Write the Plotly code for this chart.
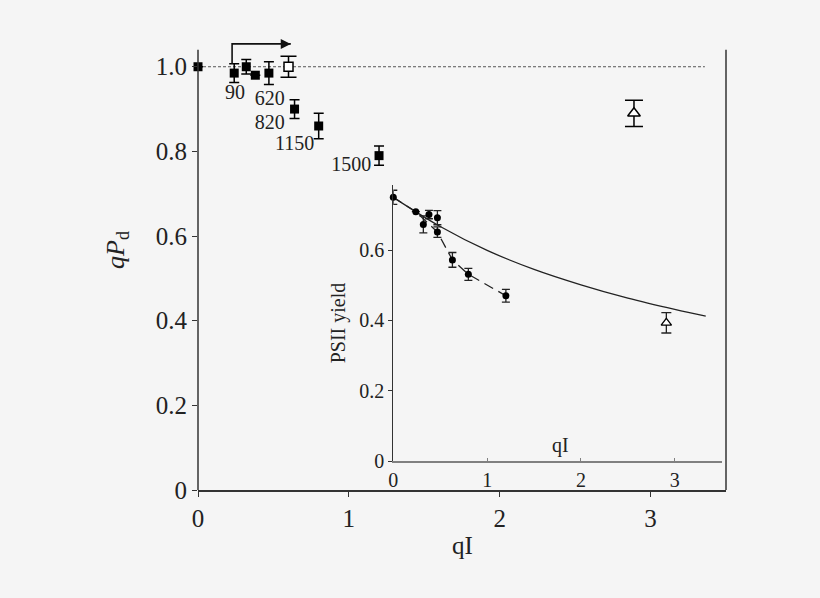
import plotly.graph_objects as go

# ---------------- data ----------------
# main panel: qPd vs qI
main_x = [0.0, 0.24, 0.32, 0.38, 0.47, 0.64, 0.80, 1.20]
main_y = [1.00, 0.985, 1.00, 0.98, 0.985, 0.90, 0.86, 0.79]
main_err = [0.0, 0.022, 0.017, 0.0, 0.027, 0.022, 0.03, 0.023]
open_sq_x = [0.60]
open_sq_y = [1.00]
open_sq_err = [0.025]
main_tri_x = [2.89]
main_tri_y = [0.89]
main_tri_err = [0.031]
label_text = ["90", "620", "820", "1150", "1500"]
label_x = [0.246, 0.475, 0.475, 0.64, 1.016]
label_y = [0.936, 0.922, 0.864, 0.816, 0.766]
ref_line_x = [0.0, 3.36]
ref_line_y = [1.0, 1.0]
arrow_path_x = [0.226, 0.226, 0.615]
arrow_path_y = [1.007, 1.054, 1.054]
arrow_head_x = [0.615]
arrow_head_y = [1.054]

# inset: PSII yield vs qI
in_x = [0.0, 0.24, 0.32, 0.38, 0.47, 0.47, 0.63, 0.80, 1.20]
in_y = [0.75, 0.709, 0.673, 0.701, 0.692, 0.651, 0.572, 0.531, 0.470]
in_err = [0.02, 0.0, 0.024, 0.012, 0.02, 0.015, 0.021, 0.017, 0.018]
in_tri_x = [2.91]
in_tri_y = [0.393]
in_tri_err = [0.029]
dash_x = [0.0, 0.24, 0.47, 0.63, 0.80, 1.20]
dash_y = [0.75, 0.709, 0.651, 0.572, 0.531, 0.470]
curve_x = [0.0, 0.5, 1.0, 1.5, 2.0, 2.5, 3.0, 3.33]
curve_y = [0.75, 0.667, 0.599, 0.545, 0.501, 0.463, 0.431, 0.412]

main_xticks = [0, 1, 2, 3]
main_yticks = [0, 0.2, 0.4, 0.6, 0.8, 1.0]
main_ytick_text = ["0", "0.2", "0.4", "0.6", "0.8", "1.0"]
main_axis_top = 1.04
in_xticks = [0, 1, 2, 3]
in_yticks = [0, 0.2, 0.4, 0.6]
in_ytick_text = ["0", "0.2", "0.4", "0.6"]

FONT = "Liberation Serif"
BG = "#f5f5f5"
DARK = "#222222"

# layout geometry (pixels)
W, H = 820, 598
L, R, B = 198, 94, 108
Y_TOP = 1.075                      # leaves room for the arrow above 1.04
T = int(round(490 - Y_TOP * 423))  # keeps 423 px per unit on main y
plot_w = W - L - R
plot_h = H - T - B


def px_x(p):
    return (p - L) / plot_w


def px_y(p):
    return (H - B - p) / plot_h


fig = go.Figure()

# ---- main panel ----
fig.add_trace(go.Scatter(x=ref_line_x, y=ref_line_y, mode="lines",
                         line=dict(color="#555555", width=1, dash="3px,2px"),
                         xaxis="x", yaxis="y", hoverinfo="skip"))
fig.add_trace(go.Scatter(x=main_x, y=main_y, mode="markers",
                         marker=dict(symbol="square", size=9, color="black"),
                         error_y=dict(type="data", array=main_err, color="black",
                                      thickness=1.5, width=5),
                         cliponaxis=False, xaxis="x", yaxis="y"))
fig.add_trace(go.Scatter(x=open_sq_x, y=open_sq_y, mode="markers",
                         marker=dict(symbol="square", size=9, color="white",
                                     line=dict(color="black", width=1.5)),
                         error_y=dict(type="data", array=open_sq_err, color="black",
                                      thickness=1.5, width=8),
                         cliponaxis=False, xaxis="x", yaxis="y"))
fig.add_trace(go.Scatter(x=main_tri_x, y=main_tri_y, mode="markers",
                         marker=dict(symbol="triangle-up", size=11, color="white",
                                     line=dict(color="black", width=1.5)),
                         error_y=dict(type="data", array=main_tri_err, color="black",
                                      thickness=1.5, width=9),
                         cliponaxis=False, xaxis="x", yaxis="y"))
fig.add_trace(go.Scatter(x=label_x, y=label_y, mode="text", text=label_text,
                         textfont=dict(family=FONT, size=20, color=DARK),
                         cliponaxis=False, xaxis="x", yaxis="y", hoverinfo="skip"))
# elbow arrow
fig.add_trace(go.Scatter(x=arrow_path_x, y=arrow_path_y, mode="lines",
                         line=dict(color="#111111", width=1.6),
                         xaxis="x", yaxis="y", hoverinfo="skip"))
fig.add_trace(go.Scatter(x=arrow_head_x, y=arrow_head_y, mode="markers",
                         marker=dict(symbol="arrow-right", size=10, color="#111111"),
                         cliponaxis=False, xaxis="x", yaxis="y", hoverinfo="skip"))

# ---- inset ----
fig.add_trace(go.Scatter(x=curve_x, y=curve_y, mode="lines",
                         line=dict(color="#222222", width=1.3, shape="spline",
                                   smoothing=1.0),
                         xaxis="x2", yaxis="y2", hoverinfo="skip"))
fig.add_trace(go.Scatter(x=dash_x, y=dash_y, mode="lines",
                         line=dict(color="#222222", width=1.3, dash="10px,6px"),
                         xaxis="x2", yaxis="y2", hoverinfo="skip"))
fig.add_trace(go.Scatter(x=in_x, y=in_y, mode="markers",
                         marker=dict(symbol="circle", size=7, color="black"),
                         error_y=dict(type="data", array=in_err, color="#222222",
                                      thickness=1.3, width=4),
                         cliponaxis=False, xaxis="x2", yaxis="y2"))
fig.add_trace(go.Scatter(x=in_tri_x, y=in_tri_y, mode="markers",
                         marker=dict(symbol="triangle-up", size=9, color="white",
                                     line=dict(color="black", width=1.3)),
                         error_y=dict(type="data", array=in_tri_err, color="#222222",
                                      thickness=1.3, width=5),
                         cliponaxis=False, xaxis="x2", yaxis="y2"))

# axis titles (centred on measured pixel positions)
titles = [
    ("<i>qP</i><sub>d</sub>", 117, 250, 26, -90),
    ("qI", 462, 545, 25, 0),
    ("PSII yield", 338, 323.3, 20, -90),
    ("qI", 560, 445, 20, 0),
]
for txt, tx, ty, fs, ang in titles:
    fig.add_annotation(x=px_x(tx), y=px_y(ty), xref="paper", yref="paper",
                       xanchor="center", yanchor="middle",
                       text=txt, showarrow=False, textangle=ang,
                       font=dict(family=FONT, size=fs, color=DARK))

# left and right frame lines of main panel (up to 1.04)
fig.add_shape(type="line", xref="paper", yref="y", x0=0, x1=0, y0=0, y1=main_axis_top,
              line=dict(color="#333333", width=1.5))
fig.add_shape(type="line", xref="paper", yref="y", x0=1, x1=1, y0=0, y1=main_axis_top,
              line=dict(color="#333333", width=1.5))

fig.update_layout(
    width=W, height=H,
    margin=dict(l=L, r=R, t=T, b=B),
    paper_bgcolor=BG, plot_bgcolor=BG,
    showlegend=False,
    font=dict(family=FONT, color=DARK),
    xaxis=dict(domain=[0, 1], range=[0, 3.5], tickvals=main_xticks,
               showgrid=False, zeroline=False, showline=True, linecolor="#333333",
               linewidth=1.5, ticks="outside", ticklen=5, tickcolor="#333333",
               tickfont=dict(family=FONT, size=25, color=DARK)),
    yaxis=dict(domain=[0, 1], range=[0, Y_TOP], tickvals=main_yticks,
               ticktext=main_ytick_text,
               showgrid=False, zeroline=False, showline=False,
               ticks="outside", ticklen=5, tickcolor="#333333",
               tickfont=dict(family=FONT, size=25, color=DARK)),
    xaxis2=dict(domain=[px_x(393.3), px_x(721.7)], range=[0, 3.5], anchor="y2",
                tickvals=in_xticks,
                showgrid=False, zeroline=False, showline=True, linecolor="#808080",
                linewidth=2, ticks="inside", ticklen=3, tickcolor="#808080",
                tickfont=dict(family=FONT, size=20, color=DARK)),
    yaxis2=dict(domain=[px_y(461), px_y(185)], range=[0, 0.785], anchor="x2",
                tickvals=in_yticks, ticktext=in_ytick_text,
                showgrid=False, zeroline=False, showline=True, linecolor="#333333",
                linewidth=1.2, ticks="outside", ticklen=4, tickcolor="#333333",
                tickfont=dict(family=FONT, size=20, color=DARK)),
)

fig.write_html("out.html", config={"displayModeBar": False},
               post_script="document.body.style.margin='0';"
                           "document.body.style.background='#f5f5f5';")
